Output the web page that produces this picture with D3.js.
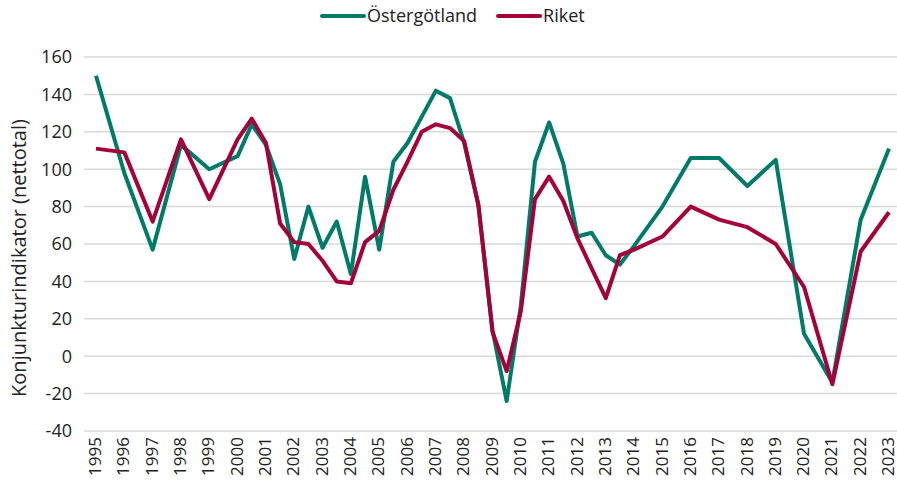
<!DOCTYPE html>
<html>
<head>
<meta charset="utf-8">
<script src="https://cdn.jsdelivr.net/npm/d3@7"></script>
<style>
  body { margin: 0; background: #fff; }
  svg text { font-family: "Open Sans", "Noto Sans", sans-serif; fill: #222; }
</style>
</head>
<body>
<svg id="chart" width="897" height="488"></svg>
<script>
// mätperioder (år, halvår 2000-2014)
const periods = [1995, 1996, 1997, 1998, 1999,
  2000, 2000.5, 2001, 2001.5, 2002, 2002.5, 2003, 2003.5, 2004, 2004.5,
  2005, 2005.5, 2006, 2006.5, 2007, 2007.5, 2008, 2008.5, 2009, 2009.5,
  2010, 2010.5, 2011, 2011.5, 2012, 2012.5, 2013, 2013.5, 2014,
  2015, 2016, 2017, 2018, 2019, 2020, 2021, 2022, 2023];

const ostergotland = [150, 98, 57, 113, 100,
  107, 124, 113, 92, 52, 80, 58, 72, 44, 96,
  57, 104, 114, 128, 142, 138, 114, 81, 14, -24,
  27, 104, 125, 103, 64, 66, 54, 49, 59,
  80, 106, 106, 91, 105, 12, -14, 73, 111];

const riket = [111, 109, 72, 116, 84,
  116, 127, 114, 71, 61, 60, 51, 40, 39, 61,
  67, 89, 104, 120, 124, 122, 115, 81, 13, -8,
  24, 84, 96, 83, 63, 47, 31, 54, 57,
  64, 80, 73, 69, 60, 37, -15, 56, 77];

const yearLabels = d3.range(1995, 2024);
const yTicks = d3.range(-40, 161, 20);

const series = [
  { name: 'Östergötland', color: '#007A69', values: ostergotland },
  { name: 'Riket', color: '#A5003A', values: riket }
];

const svg = d3.select('#chart');
const plotLeft = 84, plotRight = 897;

const x = d3.scaleLinear().domain([1995, 2023]).range([96, 889]);
const y = d3.scaleLinear().domain([-40, 160]).range([431, 57]);

// rutnät
svg.append('g')
  .selectAll('line')
  .data(yTicks)
  .enter()
  .append('line')
  .attr('x1', plotLeft)
  .attr('x2', plotRight)
  .attr('y1', d => y(d))
  .attr('y2', d => y(d))
  .attr('stroke', '#d9d9d9')
  .attr('stroke-width', 1.5);

// y-axelns etiketter
svg.append('g')
  .selectAll('text')
  .data(yTicks)
  .enter()
  .append('text')
  .attr('x', 72)
  .attr('y', d => y(d))
  .attr('dy', '0.35em')
  .attr('text-anchor', 'end')
  .style('font-size', '18px')
  .text(d => d);

// årtal, roterade
svg.append('g')
  .selectAll('text')
  .data(yearLabels)
  .enter()
  .append('text')
  .attr('transform', d => `translate(${x(d)}, 437) rotate(-90)`)
  .attr('dy', '0.3em')
  .attr('text-anchor', 'end')
  .style('font-size', '17px')
  .text(d => d);

// y-axelns titel
svg.append('text')
  .attr('transform', 'translate(19, 258) rotate(-90)')
  .attr('text-anchor', 'middle')
  .attr('dy', '0.35em')
  .style('font-size', '20px')
  .text('Konjunkturindikator (nettotal)');

const line = d3.line()
  .x((d, i) => x(periods[i]))
  .y(d => y(d));

series.forEach(s => {
  svg.append('path')
    .datum(s.values)
    .attr('fill', 'none')
    .attr('stroke', s.color)
    .attr('stroke-width', 4)
    .attr('stroke-linejoin', 'round')
    .attr('d', line);
});

// legend
const legend = svg.append('g').attr('transform', 'translate(322, 16)');
let lx = 0;
series.forEach(s => {
  const g = legend.append('g').attr('transform', `translate(${lx}, 0)`);
  g.append('line')
    .attr('x1', 0).attr('x2', 42)
    .attr('stroke', s.color)
    .attr('stroke-width', 4)
    .attr('stroke-linecap', 'round');
  const t = g.append('text')
    .attr('x', 45)
    .attr('dy', '0.35em')
    .style('font-size', '18px')
    .text(s.name);
  lx += 45 + t.node().getComputedTextLength() + 21;
});
</script>
</body>
</html>
